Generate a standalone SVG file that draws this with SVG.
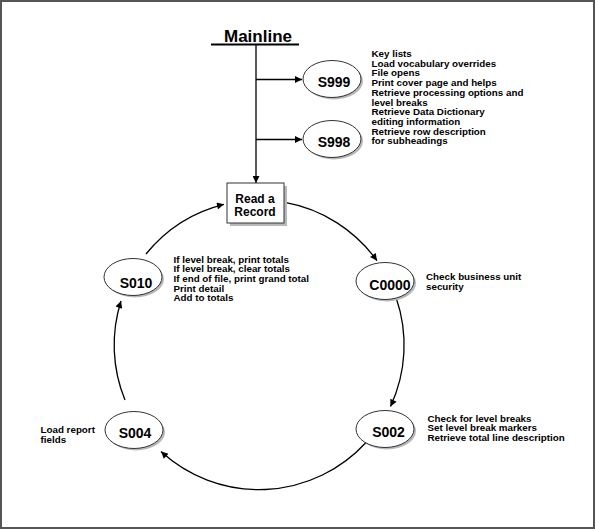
<svg xmlns="http://www.w3.org/2000/svg" width="595" height="529" viewBox="0 0 595 529">
<defs>
<marker id="ah" viewBox="0 0 10 10" refX="10" refY="5" markerWidth="9" markerHeight="7" markerUnits="userSpaceOnUse" orient="auto">
<path d="M0,0 L10,5 L0,10 z" fill="#000"/>
</marker>
<style>
.node ellipse.s{fill:#b8b8b8;stroke:none}
.node ellipse.e{fill:#fff;stroke:#333;stroke-width:1}
.lbl{font-family:"Liberation Sans",Arial,sans-serif;font-weight:bold;font-size:14px;fill:#000;text-anchor:middle}
.desc{font-family:"Liberation Sans",Arial,sans-serif;font-weight:bold;font-size:9.8px;fill:#000}
.conn path,.conn line{fill:none;stroke:#000;stroke-width:1.3}
</style>
</defs>
<rect x="0" y="0" width="595" height="529" fill="#fff"/>
<rect x="1" y="1" width="593" height="527" fill="none" stroke="#555" stroke-width="2"/>

<g id="mainline">
<text x="258" y="42" font-family="'Liberation Sans',Arial,sans-serif" font-weight="bold" font-size="17" text-anchor="middle">Mainline</text>
<line x1="211" y1="44.5" x2="299" y2="44.5" stroke="#000" stroke-width="2"/>
</g>

<g class="conn" id="connectors">
<line x1="256" y1="44" x2="256" y2="183" marker-end="url(#ah)"/>
<line x1="256" y1="79.5" x2="302" y2="79.5" marker-end="url(#ah)"/>
<line x1="256" y1="139.5" x2="302" y2="139.5" marker-end="url(#ah)"/>
<path d="M285,202.4 A145,145 0 0 1 377,260.7" marker-end="url(#ah)"/>
<path d="M396.2,298 A145,145 0 0 1 390.5,406.5" marker-end="url(#ah)"/>
<path d="M366,442.5 A145,145 0 0 1 161,451.5" marker-end="url(#ah)"/>
<path d="M125,400 A145,145 0 0 1 121,301" marker-end="url(#ah)"/>
<path d="M146,254 A145,145 0 0 1 224,204.3" marker-end="url(#ah)"/>
</g>

<g class="node" id="read-record">
<rect x="230" y="186" width="57" height="40" fill="#b8b8b8"/>
<rect x="227" y="183" width="57" height="40" fill="#fff" stroke="#333" stroke-width="1"/>
<text class="lbl" style="font-size:12px" x="255" y="203">Read a</text>
<text class="lbl" style="font-size:12px" x="255" y="216">Record</text>
</g>

<g class="node" id="S999">
<ellipse class="s" cx="334" cy="81" rx="29" ry="18.5"/>
<ellipse class="e" cx="332" cy="79" rx="29" ry="18.5"/>
<text class="lbl" x="334" y="87">S999</text>
</g>
<g class="node" id="S998">
<ellipse class="s" cx="334" cy="141" rx="29" ry="18.5"/>
<ellipse class="e" cx="332" cy="139" rx="29" ry="18.5"/>
<text class="lbl" x="334" y="147">S998</text>
</g>
<g class="node" id="S010">
<ellipse class="s" cx="135" cy="279" rx="29" ry="18.5"/>
<ellipse class="e" cx="133" cy="277" rx="29" ry="18.5"/>
<text class="lbl" x="136" y="288">S010</text>
</g>
<g class="node" id="C0000">
<ellipse class="s" cx="387" cy="283" rx="29" ry="18.5"/>
<ellipse class="e" cx="385" cy="281" rx="29" ry="18.5"/>
<text class="lbl" x="390" y="289.5">C0000</text>
</g>
<g class="node" id="S002">
<ellipse class="s" cx="387" cy="431" rx="29" ry="18.5"/>
<ellipse class="e" cx="385" cy="429" rx="29" ry="18.5"/>
<text class="lbl" x="388.5" y="437">S002</text>
</g>
<g class="node" id="S004">
<ellipse class="s" cx="136" cy="432" rx="29" ry="18.5"/>
<ellipse class="e" cx="134" cy="430" rx="29" ry="18.5"/>
<text class="lbl" x="135" y="437.5">S004</text>
</g>

<g id="notes">
<text class="desc" x="371.5" y="57">
<tspan x="371.5" y="57">Key lists</tspan>
<tspan x="371.5" y="66.7">Load vocabulary overrides</tspan>
<tspan x="371.5" y="76.4">File opens</tspan>
<tspan x="371.5" y="86.1">Print cover page and helps</tspan>
<tspan x="371.5" y="95.8">Retrieve processing options and</tspan>
<tspan x="371.5" y="105.5">level breaks</tspan>
<tspan x="371.5" y="115.2">Retrieve Data Dictionary</tspan>
<tspan x="371.5" y="124.9">editing information</tspan>
<tspan x="371.5" y="134.6">Retrieve row description</tspan>
<tspan x="371.5" y="144.3">for subheadings</tspan>
</text>
<text class="desc">
<tspan x="173.5" y="262.5">If level break, print totals</tspan>
<tspan x="173.5" y="272.2">If level break, clear totals</tspan>
<tspan x="173.5" y="281.9">If end of file, print grand total</tspan>
<tspan x="173.5" y="291.6">Print detail</tspan>
<tspan x="173.5" y="301.3">Add to totals</tspan>
</text>
<text class="desc">
<tspan x="426" y="280">Check business unit</tspan>
<tspan x="426" y="289.7">security</tspan>
</text>
<text class="desc">
<tspan x="427.5" y="421.5">Check for level breaks</tspan>
<tspan x="427.5" y="431.2">Set level break markers</tspan>
<tspan x="427.5" y="440.9">Retrieve total line description</tspan>
</text>
<text class="desc">
<tspan x="40.5" y="433">Load report</tspan>
<tspan x="40.5" y="442.7">fields</tspan>
</text>
</g>
</svg>
